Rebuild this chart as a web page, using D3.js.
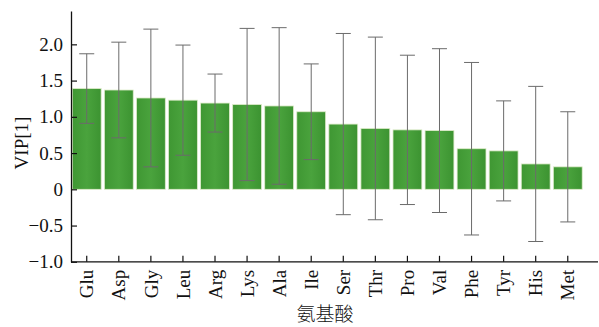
<!DOCTYPE html>
<html>
<head>
<meta charset="utf-8">
<script src="https://cdn.jsdelivr.net/npm/d3@7/dist/d3.min.js"></script>
<style>
  html, body { margin: 0; padding: 0; background: #fff; }
  svg { display: block; }
  text { font-family: "Liberation Serif", "Times New Roman", serif; fill: #111; }
</style>
</head>
<body>
<svg id="chart" width="599" height="327"></svg>
<script>
// Amino acids ranked by VIP[1] score, with standard-error half widths
const aminoAcids = ["Glu","Asp","Gly","Leu","Arg","Lys","Ala","Ile","Ser","Thr","Pro","Val","Phe","Tyr","His","Met"];
const vipValues  = [1.39, 1.37, 1.26, 1.23, 1.19, 1.17, 1.15, 1.07, 0.90, 0.84, 0.82, 0.81, 0.56, 0.53, 0.35, 0.31];
const vipErrors  = [0.48, 0.66, 0.95, 0.76, 0.40, 1.05, 1.08, 0.66, 1.25, 1.26, 1.03, 1.13, 1.19, 0.69, 1.07, 0.76];
const yTicks      = [-1.0, -0.5, 0, 0.5, 1.0, 1.5, 2.0];
const yTickLabels = ["\u22121.0", "\u22120.5", "0", "0.5", "1.0", "1.5", "2.0"];

const svg = d3.select("#chart");

const x = d3.scaleBand()
  .domain(aminoAcids)
  .range([70.7, 583.8])
  .paddingInner(0.1)
  .paddingOuter(0.05);

const y = d3.scaleLinear()
  .domain([-1.0, 2.46])
  .range([261.8, 11]);

// bar fill: slight horizontal shading
const defs = svg.append("defs");
const grad = defs.append("linearGradient").attr("id", "barFill")
  .attr("x1", "0%").attr("x2", "100%").attr("y1", "0%").attr("y2", "0%");
grad.append("stop").attr("offset", "0%").attr("stop-color", "#3f9733");
grad.append("stop").attr("offset", "50%").attr("stop-color", "#4aa33d");
grad.append("stop").attr("offset", "100%").attr("stop-color", "#3c9331");

const data = aminoAcids.map((name, i) => ({ name, v: vipValues[i], e: vipErrors[i] }));

// bars
svg.append("g").selectAll("rect").data(data).join("rect")
  .attr("x", d => x(d.name))
  .attr("width", x.bandwidth())
  .attr("y", d => y(d.v))
  .attr("height", d => y(0) - y(d.v))
  .attr("fill", "url(#barFill)")
  .attr("stroke", "#dfeccb")
  .attr("stroke-width", 0.8);

// error bars
const capHalf = 7.5;
const eb = svg.append("g").attr("stroke", "#6b6b6b").attr("stroke-width", 1).attr("fill", "none");
data.forEach(d => {
  const cx = x(d.name) + x.bandwidth() / 2;
  const yt = y(d.v + d.e), yb = y(d.v - d.e);
  eb.append("line").attr("x1", cx).attr("x2", cx).attr("y1", yt).attr("y2", yb);
  eb.append("line").attr("x1", cx - capHalf).attr("x2", cx + capHalf).attr("y1", yt).attr("y2", yt);
  eb.append("line").attr("x1", cx - capHalf).attr("x2", cx + capHalf).attr("y1", yb).attr("y2", yb);
});

// y axis
const yAxis = svg.append("g")
  .attr("transform", "translate(71,0)")
  .call(d3.axisLeft(y)
    .tickValues(yTicks)
    .tickFormat((d, i) => yTickLabels[i])
    .tickSizeInner(-6)
    .tickSizeOuter(0)
    .tickPadding(8));
yAxis.select(".domain").attr("stroke", "#111").attr("stroke-width", 1.3);
yAxis.selectAll(".tick line").attr("stroke", "#111").attr("stroke-width", 1.2);
yAxis.selectAll("text")
  .style("font-family", "'Liberation Serif', serif")
  .style("font-size", "19px")
  .attr("fill", "#111");

// x axis
const xAxis = svg.append("g")
  .attr("transform", `translate(0,${y(-1.0)})`)
  .call(d3.axisBottom(x).tickSizeInner(-6).tickSizeOuter(0).tickPadding(8));
xAxis.select(".domain").attr("d", `M71,0H598`).attr("stroke", "#111").attr("stroke-width", 1.3);
xAxis.selectAll(".tick line").attr("stroke", "#111").attr("stroke-width", 1.2);
xAxis.selectAll("text")
  .style("font-family", "'Liberation Serif', serif")
  .style("font-size", "19px")
  .attr("fill", "#111")
  .attr("transform", "rotate(-90)")
  .attr("text-anchor", "end")
  .attr("dy", "0.35em")
  .attr("y", 0)
  .attr("x", -8);

// axis titles
svg.append("text")
  .attr("transform", "translate(28,143) rotate(-90)")
  .attr("text-anchor", "middle")
  .style("font-size", "19px")
  .text("VIP[1]");

svg.append("text")
  .attr("x", 325)
  .attr("y", 321)
  .attr("text-anchor", "middle")
  .style("font-family", "'Noto Sans CJK SC', sans-serif")
  .style("font-size", "19px")
  .style("font-weight", "300")
  .text("氨基酸");
</script>
</body>
</html>
